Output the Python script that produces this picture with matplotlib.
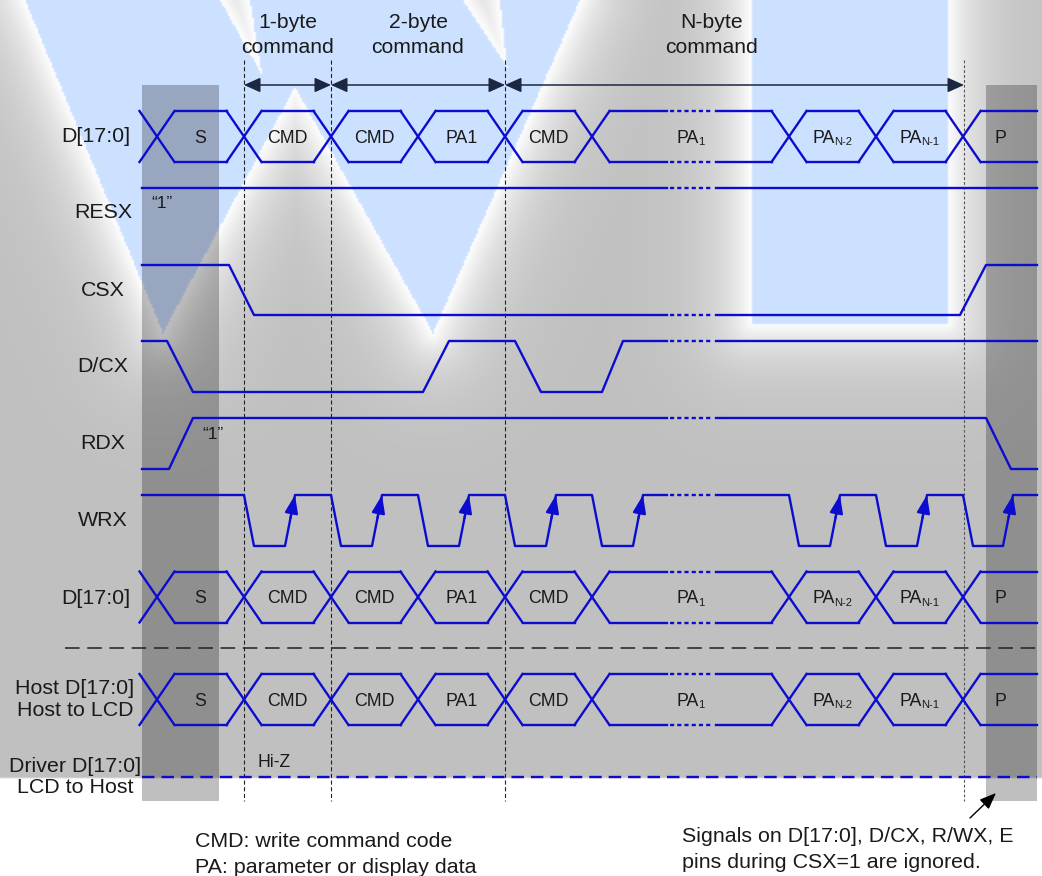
import numpy as np
import matplotlib.pyplot as plt
from matplotlib.path import Path
from matplotlib.patches import Rectangle

plt.rcParams['font.family'] = ['Liberation Sans', 'DejaVu Sans']
plt.rcParams['lines.scale_dashes'] = False

W, H = 1042, 876
BLUE = '#0c0cd0'
INK = '#1a1a1a'

# ---- timing data (x = time axis in px) ----
bus_cross = [157, 244, 331, 418, 505, 592, 789, 876, 963]
bus_end = 1037
bus_text = ['S', 'CMD', 'CMD', 'PA1', 'CMD', 'PA|1', 'PA|N-2', 'PA|N-1', 'P']
cmd_bounds = [244, 331, 505, 964]
cmd_names = ['1-byte\ncommand', '2-byte\ncommand', 'N-byte\ncommand']

resx_x = [142, 1037]
resx_v = [1, 1]
csx_x = [142, 229, 254, 960, 986, 1037]
csx_v = [1, 1, 0, 0, 1, 1]
dcx_x = [142, 167, 193, 423, 449, 515, 541, 602, 623, 1037]
dcx_v = [1, 1, 0, 0, 1, 1, 0, 0, 1, 1]
rdx_x = [142, 169, 193, 986, 1011, 1037]
rdx_v = [0, 0, 1, 1, 0, 0]
wrx_fall = [244, 331, 418, 505, 592, 789, 876, 963]
wrx_rise = [285, 372, 459, 546, 633, 830, 917, 1003]

gap = (667, 716)   # "..." break in the time axis

# ---- background: grey with the light blue W watermark ----
w_outline = [(25, 0), (580, 0), (433, 333), (295, 87), (163, 333)]
wedges = [[(220, 0), (250, 0), (262, 75)], [(463, 0), (500, 0), (507, 67)]]
rect = [(752, 0), (947, 0), (947, 323), (752, 323)]

gx, gy = np.meshgrid(np.arange(0, W, 2) + 1.0, np.arange(0, H, 2) + 1.0)
pts = np.column_stack([gx.ravel(), gy.ravel()])


def seg_dist(a, b):
    dx, dy = b[0] - a[0], b[1] - a[1]
    t = np.clip(((gx - a[0]) * dx + (gy - a[1]) * dy) / (dx * dx + dy * dy), 0, 1)
    return np.hypot(gx - a[0] - t * dx, gy - a[1] - t * dy)


edges = list(zip(w_outline[1:], w_outline[2:] + [w_outline[0]]))
for wd in wedges:
    edges += [(wd[0], wd[2]), (wd[1], wd[2])]
edges += [(rect[0], rect[3]), (rect[3], rect[2]), (rect[2], rect[1])]
d = np.min([seg_dist(a, b) for a, b in edges], axis=0)

inside = Path(w_outline).contains_points(pts).reshape(gx.shape)
for wd in wedges:
    inside &= ~Path(wd).contains_points(pts).reshape(gx.shape)
inside |= Path(rect).contains_points(pts).reshape(gx.shape)

grey = 192 + 63 * np.exp(-d / 34.0)
bg = np.dstack([grey, grey, grey])
bg[inside] = [204, 224, 255]
bg[gy > 778] = 255
bg = bg / 255.0

fig = plt.figure(figsize=(W / 100, H / 100), dpi=100)
ax = fig.add_axes([0, 0, 1, 1])
ax.imshow(bg, extent=(0, W, H, 0), aspect='auto', interpolation='bilinear', zorder=0)
ax.set_xlim(0, W)
ax.set_ylim(H, 0)
ax.axis('off')

# CSX=1 shaded columns
for x0, x1 in [(142, 219), (986, 1037)]:
    ax.add_patch(Rectangle((x0, 85), x1 - x0, 716, color='k', alpha=0.25, lw=0, zorder=1))


def trace(xs, ys, **kw):
    xs = np.asarray(xs, float)
    ys = np.asarray(ys, float)
    kw.setdefault('color', BLUE)
    kw.setdefault('lw', 1.7)
    if xs[0] < gap[0] and xs[-1] > gap[1]:
        yg = np.interp(gap[0], xs, ys)
        l = xs < gap[0]
        r = xs > gap[1]
        ax.plot(np.r_[xs[l], gap[0]], np.r_[ys[l], yg], zorder=3, **kw)
        ax.plot(np.r_[gap[1], xs[r]], np.r_[yg, ys[r]], zorder=3, **kw)
        ax.plot([gap[0] + 3, gap[1] - 3], [yg, yg], dashes=(3, 2.2), zorder=3, **kw)
    else:
        ax.plot(xs, ys, zorder=3, **kw)


def level(v, hi, lo):
    return [hi if s else lo for s in v]


def bus(yc, half=25.5, h=17.5):
    top, bot = yc - half, yc + half
    for c in bus_cross:
        trace([c - h, c + h], [top, bot])
        trace([c - h, c + h], [bot, top])
    nxt = bus_cross[1:] + [bus_end + h]
    for c0, c1, s in zip(bus_cross, nxt, bus_text):
        x1 = min(c1 - h, bus_end)
        trace([c0 + h, x1], [top, top])
        trace([c0 + h, x1], [bot, bot])
        xm = (c0 + min(c1, bus_end)) / 2
        if '|' in s:
            main, sub = s.split('|')
            wsub = 6.5 * len(sub)
            xs = xm + (24 - wsub) / 2
            ax.text(xs, yc + 6.3, main, ha='right', va='baseline', fontsize=12.8, color=INK, zorder=4)
            ax.text(xs - 1.0, yc + 8.5, sub, ha='left', va='baseline', fontsize=8.0, color=INK, zorder=4)
        else:
            ax.text(xm, yc + 6.3, s, ha='center', va='baseline', fontsize=12.8, color=INK, zorder=4)


# data buses
bus(136.5)
bus(597)
bus(699.5)

# control lines
trace(resx_x, level(resx_v, 188, 188))
trace(csx_x, level(csx_v, 265, 315))
trace(dcx_x, level(dcx_v, 341, 392))
trace(rdx_x, level(rdx_v, 418, 469))

wx, wy = [142], [495]
for f, r in zip(wrx_fall, wrx_rise):
    wx += [f, f + 10, r, r + 10]
    wy += [495, 546, 546, 495]
wx.append(1037)
wy.append(495)
trace(wx, wy)
for r in wrx_rise:
    ax.annotate('', xy=(r + 10, 495), xytext=(r + 5.5, 518),
                arrowprops=dict(arrowstyle='-|>,head_length=1.1,head_width=0.4',
                                color=BLUE, lw=1.6, shrinkA=0, shrinkB=0,
                                mutation_scale=10), zorder=3)

# driver side: Hi-Z
ax.plot([142, 1037], [777, 777], color=BLUE, lw=1.7, dashes=(9, 5), zorder=3)
ax.text(274, 766.7, 'Hi-Z', ha='center', va='baseline', fontsize=12.7, color=INK)

# separator
ax.plot([65, W], [648, 648], color='#222222', lw=1.1, dashes=(10.5, 5.5), zorder=2)

# command boundaries
for i, x in enumerate(cmd_bounds):
    ax.plot([x, x], [60, 801], color='#555555' if i == 3 else '#222222',
            lw=0.8, dashes=(3, 1.8) if i < 3 else (2, 1.5), zorder=2)
for (x0, x1), name in zip(zip(cmd_bounds[:-1], cmd_bounds[1:]), cmd_names):
    ax.annotate('', xy=(x1, 85), xytext=(x0, 85),
                arrowprops=dict(arrowstyle='<|-|>,head_length=1.0,head_width=0.45',
                                color='#1c2742', lw=1.1, shrinkA=0, shrinkB=0,
                                mutation_scale=10), zorder=3)
    l1, l2 = name.split('\n')
    xm = (x0 + x1) / 2 if x1 < 900 else 712
    ax.text(xm, 28, l1, ha='center', va='baseline', fontsize=15.2, color=INK)
    ax.text(xm, 53, l2, ha='center', va='baseline', fontsize=15.2, color=INK)

# signal names
names = [('D[17:0]', 96, 142.3), ('RESX', 103, 218), ('CSX', 103, 296),
         ('D/CX', 103, 371.7), ('RDX', 103, 449), ('WRX', 103, 525.7),
         ('D[17:0]', 96, 604.5), ('Host D[17:0]', 75, 694), ('Host to LCD', 75, 716),
         ('Driver D[17:0]', 75, 771.7), ('LCD to Host', 75, 793)]
for s, x, y in names:
    ax.text(x, y, s, ha='center', va='baseline', fontsize=15.4, color=INK, zorder=4)

ax.text(162, 208, '\u201c1\u201d', ha='center', va='baseline', fontsize=12.5, color=INK, zorder=4)
ax.text(213, 439, '\u201c1\u201d', ha='center', va='baseline', fontsize=12.5, color=INK, zorder=4)

# notes
ax.text(195, 846.7, 'CMD: write command code', ha='left', va='baseline', fontsize=15.4, color=INK)
ax.text(195, 872.7, 'PA: parameter or display data', ha='left', va='baseline', fontsize=15.4, color=INK)
ax.text(682, 841.7, 'Signals on D[17:0], D/CX, R/WX, E', ha='left', va='baseline', fontsize=15.4, color=INK)
ax.text(682, 868, 'pins during CSX=1 are ignored.', ha='left', va='baseline', fontsize=15.4, color=INK)
ax.annotate('', xy=(996, 793), xytext=(970, 818),
            arrowprops=dict(arrowstyle='-|>,head_length=1.0,head_width=0.4',
                            color='black', lw=1.0, shrinkA=0, shrinkB=0, mutation_scale=10))

fig.savefig('out.png', dpi=100)
